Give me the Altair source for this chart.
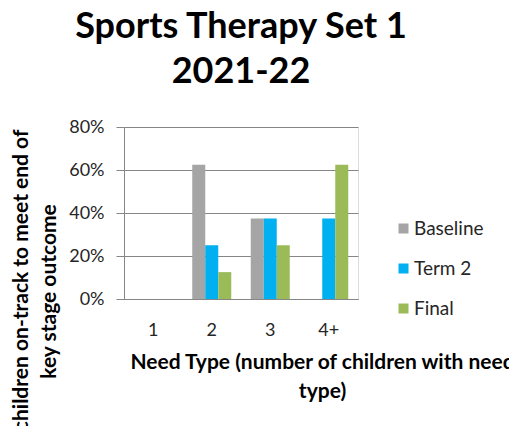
import altair as alt
import pandas as pd

categories = ["1", "2", "3", "4+"]
series = ["Baseline", "Term 2", "Final"]
baseline = [0.0, 0.625, 0.375, 0.0]
term2 = [0.0, 0.25, 0.375, 0.375]
final = [0.0, 0.125, 0.25, 0.625]
colors = ["#A5A5A5", "#00B0F0", "#9BBB59"]
y_ticks = [0, 0.2, 0.4, 0.6, 0.8]

rows = []
for name, vals in zip(series, [baseline, term2, final]):
    for c, v in zip(categories, vals):
        rows.append({"need": c, "series": name, "value": v})
df = pd.DataFrame(rows)

FONT = "Lato"

chart = alt.Chart(df).mark_bar().encode(
    x=alt.X("need:N", sort=categories,
            scale=alt.Scale(domain=categories, paddingInner=0.3333, paddingOuter=0.1667),
            axis=alt.Axis(title=["Need Type (number of children with need", "type)"],
                          labelAngle=0, ticks=False, labelPadding=22,
                          labelFontSize=18, labelFont=FONT, labelColor="#262626",
                          domainColor="#868686", grid=False,
                          titleFont=FONT, titleFontSize=21, titleFontWeight="bold",
                          titleColor="#000000", titleX=198, titleY=69,
                          titleAlign="center", titleBaseline="alphabetic",
                          titleLineHeight=29)),
    xOffset=alt.XOffset("series:N", sort=series,
                        scale=alt.Scale(domain=series, paddingInner=0, paddingOuter=0)),
    y=alt.Y("value:Q", scale=alt.Scale(domain=[0, 0.8], nice=False),
            axis=alt.Axis(values=y_ticks, format=".0%", tickSize=8, tickColor="#868686",
                          gridColor="#868686", domainColor="#868686",
                          labelFontSize=18, labelFont=FONT, labelColor="#262626",
                          labelPadding=12,
                          title=["% children on-track to meet end of", "key stage outcome"],
                          titleFont=FONT, titleFontSize=21, titleFontWeight="bold",
                          titleColor="#000000", titleAngle=270, titleX=-97, titleY=164,
                          titleAlign="center", titleBaseline="alphabetic",
                          titleLineHeight=28)),
    color=alt.Color("series:N", sort=series,
                    scale=alt.Scale(domain=series, range=colors),
                    legend=alt.Legend(title=None, orient="none", legendX=270, legendY=92,
                                      symbolType="square", symbolSize=100,
                                      symbolStrokeWidth=0, labelFont=FONT,
                                      labelFontSize=19, labelColor="#262626",
                                      labelOffset=1, rowPadding=20)),
).properties(
    width=234, height=172,
    title=alt.TitleParams(["Sports Therapy Set 1", "2021-22"], font=FONT, fontSize=36,
                          fontWeight="bold", color="#000000", anchor="middle",
                          lineHeight=45, offset=27),
    autosize=alt.AutoSizeParams(type="none"),
    padding={"left": 124, "top": 127, "right": 151, "bottom": 127},
).configure_view(stroke=None).configure(background="white")

chart.save("out.html", embed_options={"renderer": "svg", "actions": False})
